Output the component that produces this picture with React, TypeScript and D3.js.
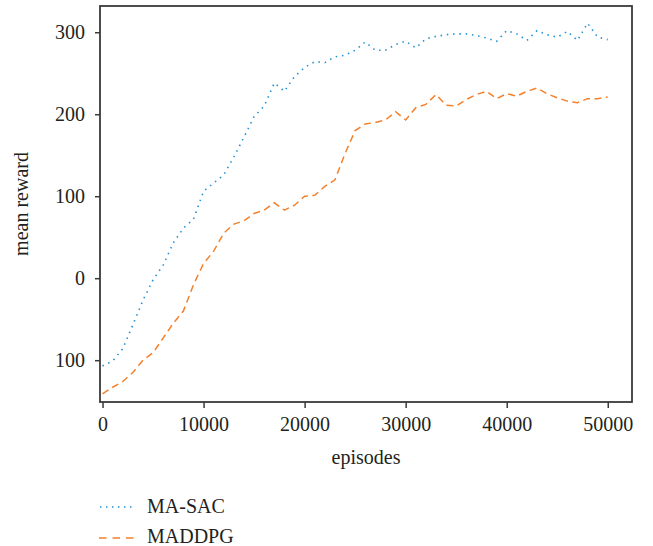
import { useEffect, useRef } from "react";
import { scaleLinear, line as d3Line, axisLeft, axisBottom, select } from "d3";

const episodes = [
  0, 1000, 2000, 3000, 4000, 5000, 6000, 7000, 8000, 9000,
  10000, 11000, 12000, 13000, 14000, 15000, 16000, 17000, 18000, 19000,
  20000, 21000, 22000, 23000, 24000, 25000, 26000, 27000, 28000, 29000,
  30000, 31000, 32000, 33000, 34000, 35000, 36000, 37000, 38000, 39000,
  40000, 41000, 42000, 43000, 44000, 45000, 46000, 47000, 48000, 49000,
  50000,
];

const maSac = [
  -107, -101, -86, -57, -27, -2, 16, 43, 61, 72,
  106, 116, 126, 148, 172, 197, 210, 238, 228, 246,
  257, 264, 263, 270, 272, 278, 288, 278, 278, 285,
  289, 281, 292, 295, 297, 298, 298, 296, 293, 289,
  302, 298, 290, 302, 297, 294, 301, 290, 311, 294,
  291,
];

const maddpg = [
  -141, -133, -126, -115, -100, -91, -73, -55, -40, -8,
  18, 33, 55, 66, 70, 79, 83, 92, 83, 89,
  100, 101, 112, 120, 152, 180, 188, 190, 193, 203,
  193, 208, 212, 224, 211, 210, 218, 224, 228, 219,
  225, 222, 228, 232, 225, 220, 216, 214, 219, 219,
  221,
];

const xTicks = [0, 10000, 20000, 30000, 40000, 50000];
const yTicks = [-100, 0, 100, 200, 300];
const yTickLabels = ["100", "0", "100", "200", "300"];

const WIDTH = 653;
const HEIGHT = 546;
const PLOT = { left: 100, right: 632, top: 6, bottom: 402 };
const FONT = "'Liberation Serif', 'Times New Roman', serif";
const BLUE = "#2193d4";
const ORANGE = "#f4802b";

export default function App() {
  const svgRef = useRef<SVGSVGElement>(null);

  const x = scaleLinear().domain([-250, 52400]).range([PLOT.left, PLOT.right]);
  const y = scaleLinear().domain([-151, 332]).range([PLOT.bottom, PLOT.top]);

  const gen = d3Line<number>()
    .x((_, i) => x(episodes[i]));

  const sacPath = gen.y((d) => y(d))(maSac) ?? "";
  const ddpgPath = gen.y((d) => y(d))(maddpg) ?? "";

  useEffect(() => {
    if (!svgRef.current) return;
    const svg = select(svgRef.current);

    const yAxis = svg.select<SVGGElement>(".y-axis")
      .attr("transform", `translate(${PLOT.left},0)`)
      .call(
        axisLeft(y)
          .tickValues(yTicks)
          .tickSize(5)
          .tickPadding(10)
          .tickFormat((_, i) => yTickLabels[i])
      );
    yAxis.select(".domain").remove();

    const xAxis = svg.select<SVGGElement>(".x-axis")
      .attr("transform", `translate(0,${PLOT.bottom})`)
      .call(axisBottom(x).tickValues(xTicks).tickSize(6).tickPadding(9).tickFormat((d) => String(d)));
    xAxis.select(".domain").remove();

    svg.selectAll(".y-axis, .x-axis")
      .attr("font-family", FONT)
      .attr("font-size", 20);
    svg.selectAll(".y-axis line, .x-axis line")
      .attr("stroke", "#3a3a3a")
      .attr("stroke-width", 1.5);
    svg.selectAll(".y-axis text, .x-axis text").attr("fill", "#231f20");
  }, []);

  return (
    <svg
      ref={svgRef}
      width={WIDTH}
      height={HEIGHT}
      style={{ position: "absolute", left: 0, top: 0, background: "#fff" }}
    >
      {/* series */}
      <path d={ddpgPath} fill="none" stroke={ORANGE} strokeWidth={1.5} strokeDasharray="7 4.5" />
      <path d={sacPath} fill="none" stroke={BLUE} strokeWidth={1.6} strokeDasharray="1.5 4.8" />
      {/* frame */}
      <rect
        x={PLOT.left}
        y={PLOT.top}
        width={PLOT.right - PLOT.left}
        height={PLOT.bottom - PLOT.top}
        fill="none"
        stroke="#3a3a3a"
        strokeWidth={1.8}
      />
      <g className="y-axis" />
      <g className="x-axis" />
      <text
        transform={`translate(28,${(PLOT.top + PLOT.bottom) / 2}) rotate(-90)`}
        textAnchor="middle"
        fontFamily={FONT}
        fontSize={20}
        fill="#231f20"
      >
        mean reward
      </text>
      <text
        x={(PLOT.left + PLOT.right) / 2}
        y={464}
        textAnchor="middle"
        fontFamily={FONT}
        fontSize={20}
        fill="#231f20"
      >
        episodes
      </text>
      {/* legend */}
      <line x1={100} x2={134} y1={507} y2={507} stroke={BLUE} strokeWidth={1.6} strokeDasharray="1.5 4.5" />
      <text x={147} y={513} fontFamily={FONT} fontSize={20} fill="#231f20">MA-SAC</text>
      <line x1={99} x2={135} y1={538} y2={538} stroke={ORANGE} strokeWidth={1.5} strokeDasharray="7.5 6" />
      <text x={147} y={543} fontFamily={FONT} fontSize={20} fill="#231f20">MADDPG</text>
    </svg>
  );
}
